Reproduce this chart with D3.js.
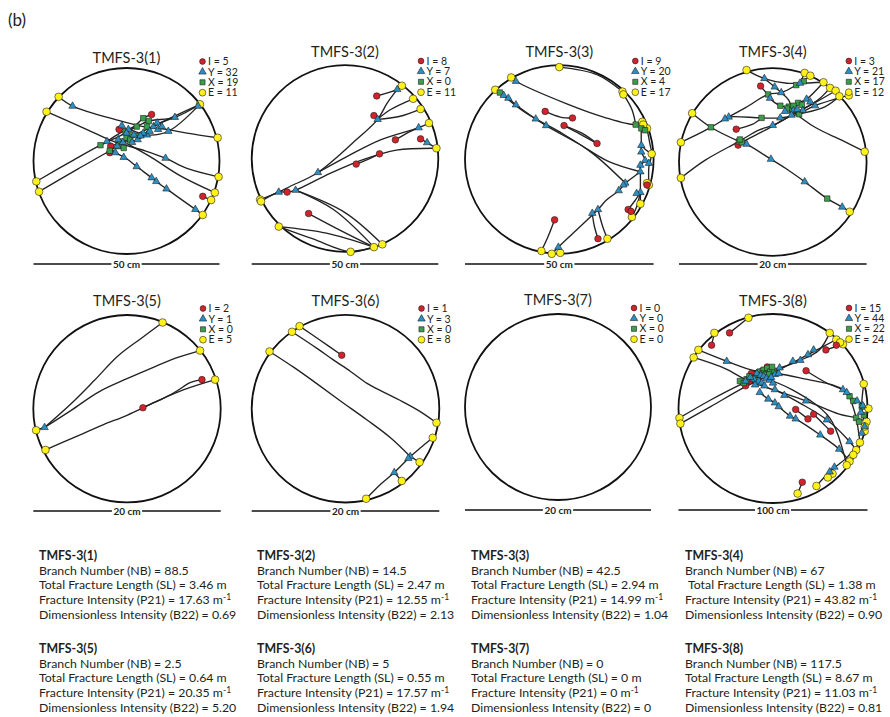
<!DOCTYPE html>
<html>
<head>
<meta charset="utf-8">
<script src="https://cdn.jsdelivr.net/npm/d3@7"></script>
<style>
  html, body { margin: 0; padding: 0; background: #fff; }
  svg { display: block; font-family: Lato, "Open Sans", sans-serif; }
</style>
</head>
<body>
<svg id="fig" width="890" height="717"></svg>
<script>
// ---- sample summary ----
const sampleNames = ["TMFS-3(1)", "TMFS-3(2)", "TMFS-3(3)", "TMFS-3(4)", "TMFS-3(5)", "TMFS-3(6)", "TMFS-3(7)", "TMFS-3(8)"];
const scaleBarLabels = ["50 cm", "50 cm", "50 cm", "20 cm", "20 cm", "20 cm", "20 cm", "100 cm"];
const countI = [5, 8, 9, 3, 2, 1, 0, 15];
const countY = [32, 7, 20, 21, 1, 3, 0, 44];
const countX = [19, 0, 4, 17, 0, 0, 0, 22];
const countE = [11, 11, 17, 12, 5, 8, 0, 24];
const branchNumber = [88.5, 14.5, 42.5, 67, 2.5, 5, 0, 117.5];
const totalLength = [3.46, 2.47, 2.94, 1.38, 0.64, 0.55, 0, 8.67];
const intensityP21 = [17.63, 12.55, 14.99, 43.82, 20.35, 17.57, 0, 11.03];
const intensityB22 = [0.69, 2.13, 1.04, 0.90, 5.20, 1.94, 0, 0.81];

// ---- traced fracture networks, in percent of window radius (x right, y down) ----
// TMFS-3(1)
const traces1 = [
  [[-73,-69],[-58,-59],[-10,-44],[18,-37],[43,-34],[65,-30],[98,-25]],
  [[-86,-53],[-43,-34],[-14,-21],[20,-11],[42,-3],[65,8],[99,17]],
  [[79,-61],[52,-47],[24,-43],[11,-37],[-7,-27],[-28,-17],[-57,-1],[-97,22]],
  [[79,-61],[36,-41],[8,-27],[-18,-11],[-53,9],[-94,33]],
  [[-18,-16],[-12,-9],[-2,-4],[11,6],[27,18],[32,22],[43,30],[74,52],[82,58]],
  [[0,-19],[25,-5],[58,16],[95,34]],
  [[82,38],[91,42]],
  [[27,-50],[18,-46],[8,-37],[-7,-30],[-21,-21]],
  [[-8,-34],[2,-34],[22,-28],[45,-32],[77,-59]],
  [[-17,-16],[-4,-20],[12,-23],[29,-37],[52,-47]]
];
const nodesE1 = [[-73,-69],[-86,-53],[79,-61],[98,-25],[99,17],[95,34],[91,42],[82,58],[-97,22],[-94,33]];
const nodesI1 = [[27,-50],[-8,-34],[-17,-16],[-18,-9],[82,38]];
const nodesY1 = [[-58,-59],[52,-47],[77,-59],[-5,-38],[2,-34],[29,-37],[34,-34],[38,-37],[22,-28],[12,-23],
  [6,-20],[-4,-20],[-10,-16],[-21,-21],[-12,-9],[-3,-4],[11,6],[27,18],[32,22],[43,30],[42,-3],[74,52],
  [18,-30],[15,-27],[8,-28],[25,-32],[33,-41],[-9,-23],[0,-30],[45,-32]];
const nodesX1 = [[-28,-17],[-18,-11],[-7,-21],[0,-25],[6,-28],[11,-37],[18,-46],[24,-43],[-1,-32],[4,-23],
  [13,-27],[-9,-16],[22,-37],[-3,-14]];

// TMFS-3(2)
const traces2 = [
  [[61,-78],[56,-74],[34,-67]],
  [[56,-74],[45,-59],[35,-42],[12,-20],[-29,15],[-59,30],[-71,36],[-91,44]],
  [[73,-64],[48,-52],[35,-42]],
  [[35,-42],[31,-46]],
  [[81,-53],[58,-45],[35,-42]],
  [[90,-38],[79,-33],[38,-20],[2,-2],[-29,15]],
  [[79,-33],[66,-27],[54,-20]],
  [[98,-11],[88,-17],[81,-21]],
  [[98,-11],[55,-9],[20,1],[-16,16],[-53,34],[-62,36],[-71,36],[-90,46]],
  [[37,-5],[22,2],[12,6]],
  [[-53,34],[-12,55],[31,95]],
  [[-53,34],[0,58],[40,92]],
  [[-39,59],[-5,77],[31,95]],
  [[-71,73],[-35,86],[6,100],[27,96],[40,92]],
  [[-71,73],[-20,80],[31,95]]
];
const nodesE2 = [[61,-78],[73,-64],[81,-53],[90,-38],[98,-11],[-91,44],[-90,46],[-71,73],[6,100],[31,95],[40,92]];
const nodesI2 = [[34,-67],[31,-46],[54,-20],[81,-21],[37,-5],[12,6],[-62,36],[-39,59]];
const nodesY2 = [[56,-74],[35,-42],[79,-33],[88,-17],[-29,15],[-71,36],[-53,34]];
const nodesX2 = [];

// TMFS-3(3)
const traces3 = [
  [[0,-98],[40,-90],[67,-72]],
  [[68,-69],[77,-53],[81,-37]],
  [[-51,-87],[-46,-83],[8,-59],[47,-45],[81,-37],[88,-40]],
  [[-68,-74],[-63,-71],[-59,-68],[-54,-65],[-46,-58],[-25,-43],[-14,-36],[20,-17],[52,2],[86,13]],
  [[-63,-71],[-35,-49],[1,-29],[36,-6],[70,25]],
  [[-15,-51],[1,-45],[14,-44]],
  [[5,-36],[22,-27],[40,-17]],
  [[5,-36],[24,-28],[40,-17]],
  [[88,-40],[87,-33],[87,-15],[87,-8],[91,1],[86,6],[86,13],[86,35],[86,47]],
  [[93,-33],[96,-17],[98,-6],[95,8],[95,27]],
  [[70,25],[63,33],[50,43],[41,53],[18,75],[-1,93],[-8,100]],
  [[86,13],[70,25]],
  [[86,35],[82,50],[77,61]],
  [[73,53],[80,44],[86,35]],
  [[41,53],[46,71],[51,84]],
  [[35,57],[37,70],[41,84]],
  [[-5,64],[-12,82],[-19,97]],
  [[-1,93],[1,99]],
  [[87,-15],[92,-10],[98,-6]]
];
const nodesE3 = [[0,-98],[-51,-87],[-68,-74],[67,-72],[68,-69],[88,-40],[93,-33],[98,-6],[95,27],[86,47],
  [77,61],[51,84],[-19,97],[-8,100],[1,99],[89,-37],[93,25]];
const nodesI3 = [[-15,-51],[14,-44],[5,-36],[40,-17],[93,27],[73,53],[76,55],[41,84],[-5,64]];
const nodesY3 = [[-46,-83],[-59,-68],[-54,-65],[-46,-58],[-25,-43],[-14,-36],[87,-15],[91,1],[86,6],[86,13],
  [70,25],[63,33],[86,35],[35,57],[41,53],[-1,93],[87,-8],[95,4],[82,36],[68,27]];
const nodesX3 = [[-63,-71],[81,-37],[87,-33],[91,-31]];

// TMFS-3(4)
const traces4 = [
  [[-28,-98],[-9,-89],[15,-84],[29,-84],[54,-85]],
  [[-98,-21],[-66,-37],[-51,-46],[-47,-48],[-12,-47],[8,-47],[28,-51],[56,-59],[71,-70]],
  [[-86,-52],[-66,-37],[-36,-22],[-28,-19],[-2,-3],[17,9],[34,21],[58,39],[74,48],[82,53]],
  [[-98,17],[-72,-2],[-36,-22],[-15,-34],[0,-39],[20,-50],[48,-66],[61,-79]],
  [[-37,-18],[-33,-21],[-8,-34],[20,-50],[41,-61],[67,-76]],
  [[-39,-35],[-22,-40],[-12,-47]],
  [[-51,-46],[-29,-58],[-5,-72],[9,-74],[25,-82],[40,-92]],
  [[-13,-81],[-8,-75],[-5,-72],[-3,-68],[8,-60],[17,-59],[27,-63],[36,-67],[54,-85]],
  [[20,-55],[45,-37],[74,-23],[98,-11]],
  [[-9,-89],[2,-80],[9,-74],[17,-66],[20,-55]],
  [[81,-71],[45,-60],[28,-51]],
  [[29,-84],[34,-95]]
];
const nodesE4 = [[-28,-98],[34,-95],[40,-92],[54,-85],[61,-79],[67,-76],[71,-70],[81,-71],[-86,-52],[-98,-21],[98,-11],[-98,17],[82,53]];
const nodesI4 = [[-13,-81],[-39,-35],[-37,-18]];
const nodesY4 = [[-9,-89],[29,-84],[9,-74],[-3,-68],[36,-67],[22,-55],[32,-55],[45,-60],[8,-47],[20,-50],
  [0,-39],[-47,-48],[-51,-46],[-28,-19],[-2,-3],[34,21],[74,48],[26,-56],[40,-64],[13,-54],[2,-80]];
const nodesX4 = [[-66,-37],[-12,-47],[-5,-72],[25,-82],[33,-86],[27,-63],[17,-59],[20,-55],[28,-51],
  [-36,-22],[-33,-21],[58,39],[15,-57],[31,-61],[22,-60],[-35,-24],[8,-60]];

// TMFS-3(5)
const traces5 = [
  [[-88,20],[-60,-5],[-35,-30],[-10,-56],[15,-75],[38,-92]],
  [[-88,20],[-60,2],[-30,-18],[0,-32],[30,-45],[55,-55],[78,-62]],
  [[-97,23],[-88,20]],
  [[-87,44],[-55,30],[-25,17],[0,7],[30,-7],[60,-20],[94,-31]],
  [[17,-1],[32,-8],[50,-17],[68,-28],[80,-31]]
];
const nodesE5 = [[38,-92],[78,-62],[94,-31],[-97,23],[-87,44]];
const nodesI5 = [[80,-31],[17,-1]];
const nodesY5 = [[-88,20]];
const nodesX5 = [];

// TMFS-3(6)
const traces6 = [
  [[-49,-88],[-27,-73],[-4,-57]],
  [[-57,-82],[-30,-64],[-13,-52],[5,-40],[23,-27],[40,-18],[58,-9],[78,2],[97,15]],
  [[-81,-61],[-55,-44],[-31,-27],[-5,-8],[23,12],[48,31],[69,51]],
  [[69,51],[82,40],[93,31]],
  [[69,51],[79,57]],
  [[69,51],[52,68],[38,80],[22,96]],
  [[52,68],[60,77]]
];
const nodesE6 = [[-49,-88],[-57,-82],[-81,-61],[97,15],[93,31],[79,57],[60,77],[22,96]];
const nodesI6 = [[-4,-57]];
const nodesY6 = [[69,51],[52,68],[67,53]];
const nodesX6 = [];

// TMFS-3(7): no fractures
const traces7 = [];
const nodesE7 = [], nodesI7 = [], nodesY7 = [], nodesX7 = [];

// TMFS-3(8)
const traces8 = [
  [[-26,-96],[-46,-80]],
  [[-62,-80],[-65,-67]],
  [[-79,-62],[-49,-50],[-20,-40],[5,-37],[35,-31],[63,-25],[74,-20],[81,-13],[95,-4],[101,0]],
  [[-84,-54],[-50,-42],[-28,-30],[0,-20],[35,-8],[70,6],[88,10],[99,14]],
  [[-99,10],[-66,-9],[-35,-25],[-3,-39],[29,-51],[49,-62],[60,-80]],
  [[-98,16],[-66,-2],[-31,-22],[-3,-36],[37,-57],[67,-73]],
  [[-14,-17],[-5,-10],[2,-6],[6,-2],[18,8],[24,11],[50,28],[70,43],[81,56]],
  [[2,-20],[28,-6],[57,12],[81,35],[88,44]],
  [[35,-40],[57,-27],[74,-20]],
  [[24,1],[37,11]],
  [[43,6],[52,15],[61,24]],
  [[56,-62],[74,-68]],
  [[67,-67],[67,-73]],
  [[96,-26],[94,-2],[97,19],[97,24]],
  [[92,36],[78,52],[60,67],[46,82]],
  [[63,69],[58,73]],
  [[31,78],[26,90]],
  [[-23,-37],[20,-20],[60,10],[78,60]],
  [[81,-13],[88,10],[92,36]],
  [[-6,-44],[-23,-37],[-29,-24]]
];
const nodesE8 = [[-26,-96],[-62,-80],[-79,-62],[-84,-54],[60,-80],[67,-73],[74,-68],[96,-26],[101,0],[99,14],
  [97,24],[92,36],[88,44],[85,49],[81,56],[78,60],[63,69],[58,73],[46,82],[26,90],[-99,10],[-98,16],[97,19],[71,-70]];
const nodesI8 = [[-46,-80],[-65,-67],[56,-62],[67,-67],[35,-40],[-6,-44],[-23,-37],[-25,-29],[-29,-24],
  [24,1],[37,11],[43,6],[61,24],[31,78],[-18,-33]];
const nodesY8 = [[-49,-50],[-17,-37],[-13,-35],[-10,-34],[-20,-31],[-15,-29],[-12,-27],[-19,-25],[-29,-29],
  [2,-36],[6,-37],[29,-51],[21,-50],[37,-57],[43,-62],[7,-43],[2,-20],[-14,-17],[-5,-10],[2,-6],[6,-2],
  [18,8],[24,11],[74,-20],[78,-17],[95,-3],[94,26],[97,19],[60,67],[65,62],[-7,-32],[-4,-30],[12,-14],
  [35,-8],[50,28],[70,43],[81,35],[57,12],[-24,-33],[0,-27],[-9,-24],[-2,-33],[89,-8],[93,4]];
const nodesX8 = [[-35,-29],[-28,-31],[-14,-39],[-10,-41],[-6,-43],[-3,-39],[-20,-32],[-15,-35],[81,-13],
  [94,-2],[88,10],[91,14],[-11,-37],[-25,-34],[-8,-36],[1,-40],[-17,-30],[-1,-44],[85,-8],[96,7],[-31,-27],[-4,-36]];

const tracesAll = [traces1, traces2, traces3, traces4, traces5, traces6, traces7, traces8];
const nodesEAll = [nodesE1, nodesE2, nodesE3, nodesE4, nodesE5, nodesE6, nodesE7, nodesE8];
const nodesIAll = [nodesI1, nodesI2, nodesI3, nodesI4, nodesI5, nodesI6, nodesI7, nodesI8];
const nodesYAll = [nodesY1, nodesY2, nodesY3, nodesY4, nodesY5, nodesY6, nodesY7, nodesY8];
const nodesXAll = [nodesX1, nodesX2, nodesX3, nodesX4, nodesX5, nodesX6, nodesX7, nodesX8];

// ---- drawing ----
const svg = d3.select("#fig");
const colI = "#d1232b", colY = "#2b8fc4", colX = "#3a9e4a", colE = "#fff21a", outline = "#231f20";

// window placement: centre and radius of each circular scan window
const windows = [
  {cx: 126.5, cy: 161, r: 93, titleY: 58},
  {cx: 345, cy: 158.5, r: 93.3, titleY: 52},
  {cx: 559.3, cy: 159.5, r: 94.3, titleY: 52},
  {cx: 772.8, cy: 162, r: 93.8, titleY: 52},
  {cx: 127, cy: 408.7, r: 93.7, titleY: 301},
  {cx: 345.5, cy: 408.7, r: 93.8, titleY: 301},
  {cx: 558, cy: 407, r: 93, titleY: 300},
  {cx: 773, cy: 408.5, r: 94.5, titleY: 301}
];
const barY = [264, 264, 264, 264, 511, 511, 510, 510];
const legendY0 = [61.5, 61, 61, 61, 308.5, 308.5, 308, 308];

svg.append("text").attr("x", 8).attr("y", 26).attr("font-size", 17).attr("fill", "#231f20").text("(b)");

const sym = {
  I: d3.symbol().type(d3.symbolCircle).size(34),
  Y: d3.symbol().type(d3.symbolTriangle).size(24),
  X: d3.symbol().type(d3.symbolSquare).size(30),
  E: d3.symbol().type(d3.symbolCircle).size(46)
};

sampleNames.forEach((name, i) => {
  const w = windows[i];
  const x = d3.scaleLinear().domain([-100, 100]).range([w.cx - w.r, w.cx + w.r]);
  const y = d3.scaleLinear().domain([-100, 100]).range([w.cy - w.r, w.cy + w.r]);
  const g = svg.append("g");

  // title
  g.append("text").attr("x", w.cx).attr("y", w.titleY + 5).attr("text-anchor", "middle")
    .attr("font-size", 14.5).attr("fill", "#231f20").text(name);

  // window outline
  g.append("circle").attr("cx", x(0)).attr("cy", y(0)).attr("r", x(100) - x(0))
    .attr("fill", "none").attr("stroke", "#111").attr("stroke-width", 1.8);

  // fracture traces
  const line = d3.line().x(d => x(d[0])).y(d => y(d[1])).curve(d3.curveCatmullRom.alpha(0.5));
  g.append("g").selectAll("path").data(tracesAll[i]).join("path")
    .attr("d", line).attr("fill", "none").attr("stroke", "#222").attr("stroke-width", 1.35)
    .attr("stroke-linejoin", "round");

  // nodes
  const drawNodes = (pts, s, fill) => {
    g.append("g").selectAll("path").data(pts).join("path")
      .attr("d", s).attr("transform", d => `translate(${x(d[0])},${y(d[1])})`)
      .attr("fill", fill).attr("stroke", outline).attr("stroke-width", 0.6);
  };
  drawNodes(nodesEAll[i], sym.E, colE);
  drawNodes(nodesIAll[i], sym.I, colI);
  drawNodes(nodesXAll[i], sym.X, colX);
  drawNodes(nodesYAll[i], sym.Y, colY);

  // legend
  const lx = w.cx + 76;
  const rows = [
    {s: d3.symbol().type(d3.symbolCircle).size(26), c: colI, t: `I = ${countI[i]}`},
    {s: d3.symbol().type(d3.symbolTriangle).size(24), c: colY, t: `Y = ${countY[i]}`},
    {s: d3.symbol().type(d3.symbolSquare).size(26), c: colX, t: `X = ${countX[i]}`},
    {s: d3.symbol().type(d3.symbolCircle).size(36), c: colE, t: `E = ${countE[i]}`}
  ];
  rows.forEach((row, k) => {
    const ly = legendY0[i] + k * 10.4;
    g.append("path").attr("d", row.s).attr("transform", `translate(${lx},${ly})`)
      .attr("fill", row.c).attr("stroke", outline).attr("stroke-width", 0.6);
    g.append("text").attr("x", lx + 5.5).attr("y", ly + 3.6).attr("font-size", 10.5)
      .attr("fill", "#231f20").text(row.t);
  });

  // scale bar spanning the window diameter
  const by = barY[i];
  g.append("line").attr("x1", x(-100)).attr("x2", x(100)).attr("y1", by).attr("y2", by)
    .attr("stroke", "#111").attr("stroke-width", 1.6);
  const lbl = g.append("text").attr("x", x(0)).attr("y", by + 3.5).attr("text-anchor", "middle")
    .attr("font-size", 10).attr("font-weight", 700).attr("fill", "#231f20").text(scaleBarLabels[i]);
  const bb = lbl.node().getBBox();
  g.insert("rect", "text:last-of-type").attr("x", bb.x - 1.5).attr("y", by - 3).attr("width", bb.width + 3)
    .attr("height", 6).attr("fill", "#fff");
  lbl.raise();
});

// ---- summary statistics below the windows ----
const colX0 = [39, 257, 471, 685];
const blockTop = [560, 653];
const fmt2 = v => v === 0 ? "0" : v.toFixed(2);
sampleNames.forEach((name, i) => {
  const bx = colX0[i % 4];
  const by = blockTop[Math.floor(i / 4)];
  const g = svg.append("g").attr("fill", "#231f20").attr("font-size", 12.3);
  g.append("text").attr("x", bx).attr("y", by).attr("font-weight", 700).text(name);
  g.append("text").attr("x", bx).attr("y", by + 14.8).text(`Branch Number (NB) = ${branchNumber[i]}`);
  g.append("text").attr("x", bx + (i === 3 ? 3 : 0)).attr("y", by + 29.4)
    .text(`Total Fracture Length (SL) = ${totalLength[i] === 0 ? "0" : totalLength[i].toFixed(2)} m`);
  const p = g.append("text").attr("x", bx).attr("y", by + 44);
  p.append("tspan").text(`Fracture Intensity (P21) = ${fmt2(intensityP21[i])} m`);
  p.append("tspan").attr("font-size", 8.5).attr("dy", -4).text("-1");
  g.append("text").attr("x", bx).attr("y", by + 58.6).text(`Dimensionless Intensity (B22) = ${fmt2(intensityB22[i])}`);
});
</script>
</body>
</html>
